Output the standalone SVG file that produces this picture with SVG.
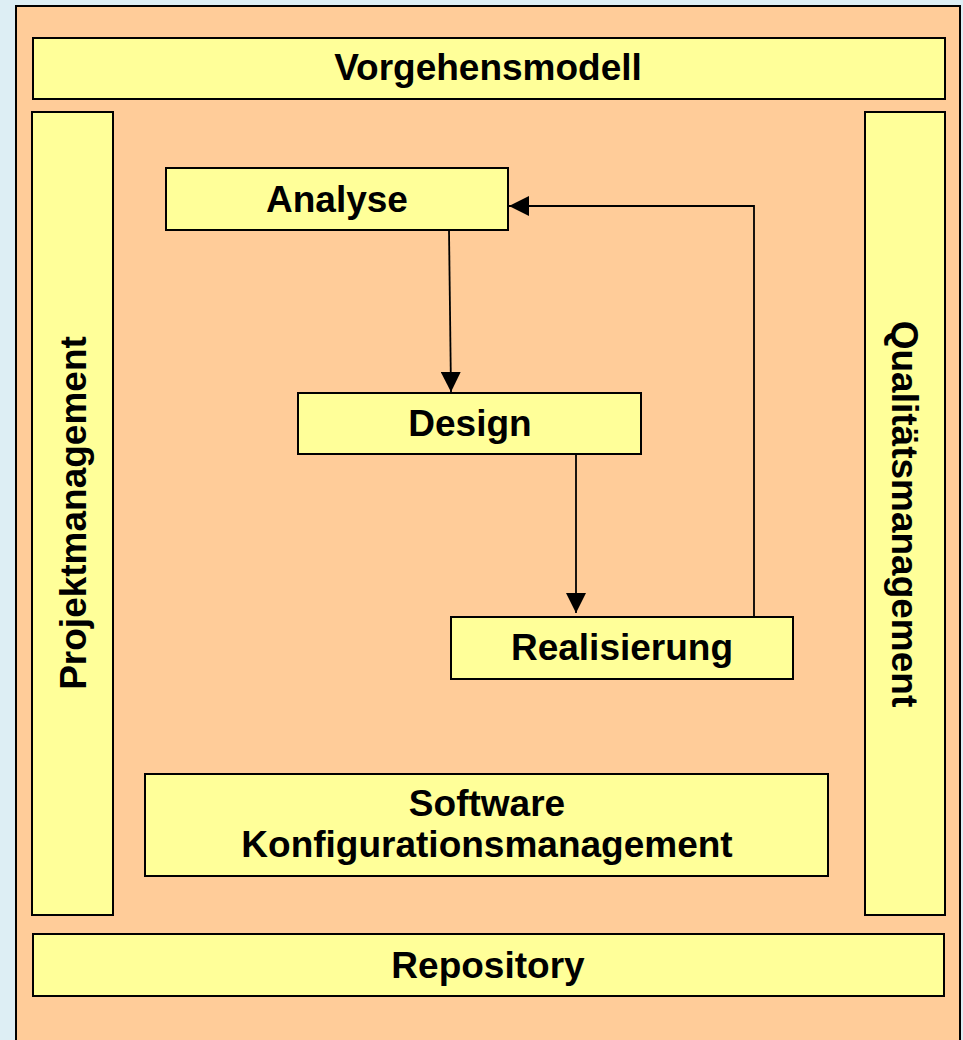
<svg xmlns="http://www.w3.org/2000/svg" width="963" height="1040" viewBox="0 0 963 1040">
<style>
.box{fill:#FFFF99;stroke:#000;stroke-width:2}
.lbl{font-family:"Liberation Sans",Arial,sans-serif;font-weight:bold;font-size:37px;fill:#000;text-anchor:middle}
.con{fill:none;stroke:#000;stroke-width:1.8}
</style>
<defs>
<marker id="arr" viewBox="0 0 20 20" refX="20" refY="10" markerWidth="20" markerHeight="20" markerUnits="userSpaceOnUse" orient="auto">
<path d="M0,0 L20,10 L0,20 Z" fill="#000"/>
</marker>
</defs>
<rect x="0" y="0" width="963" height="1040" fill="#DDEEF4"/>
<rect id="frame" x="16" y="6" width="944" height="1060" fill="#FFCC99" stroke="#000" stroke-width="2"/>
<g id="vorgehensmodell">
<rect class="box" x="33" y="38" width="912" height="61"/>
<text class="lbl" x="488" y="80">Vorgehensmodell</text>
</g>
<g id="projektmanagement">
<rect class="box" x="32" y="112" width="81" height="803"/>
<text class="lbl" transform="translate(86,513) rotate(-90)" x="0" y="0">Projektmanagement</text>
</g>
<g id="qualitaetsmanagement">
<rect class="box" x="865" y="112" width="80" height="803"/>
<text class="lbl" transform="translate(892,514) rotate(90)" x="0" y="0">Qualitätsmanagement</text>
</g>
<g id="analyse">
<rect class="box" x="166" y="168" width="342" height="62"/>
<text class="lbl" x="337" y="212">Analyse</text>
</g>
<g id="design">
<rect class="box" x="298" y="393" width="343" height="61"/>
<text class="lbl" x="470" y="436">Design</text>
</g>
<g id="realisierung">
<rect class="box" x="451" y="617" width="342" height="62"/>
<text class="lbl" x="622" y="660">Realisierung</text>
</g>
<g id="konfigurationsmanagement">
<rect class="box" x="145" y="774" width="683" height="102"/>
<text class="lbl" x="487" y="816">Software</text>
<text class="lbl" x="487" y="857">Konfigurationsmanagement</text>
</g>
<g id="repository">
<rect class="box" x="33" y="934" width="911" height="62"/>
<text class="lbl" x="488" y="978">Repository</text>
</g>
<g id="connectors">
<path class="con" d="M449,230 L451,392" marker-end="url(#arr)"/>
<path class="con" d="M576,454 L576,613" marker-end="url(#arr)"/>
<path class="con" d="M754,617 L754,206 L509,206" marker-end="url(#arr)"/>
</g>
</svg>
